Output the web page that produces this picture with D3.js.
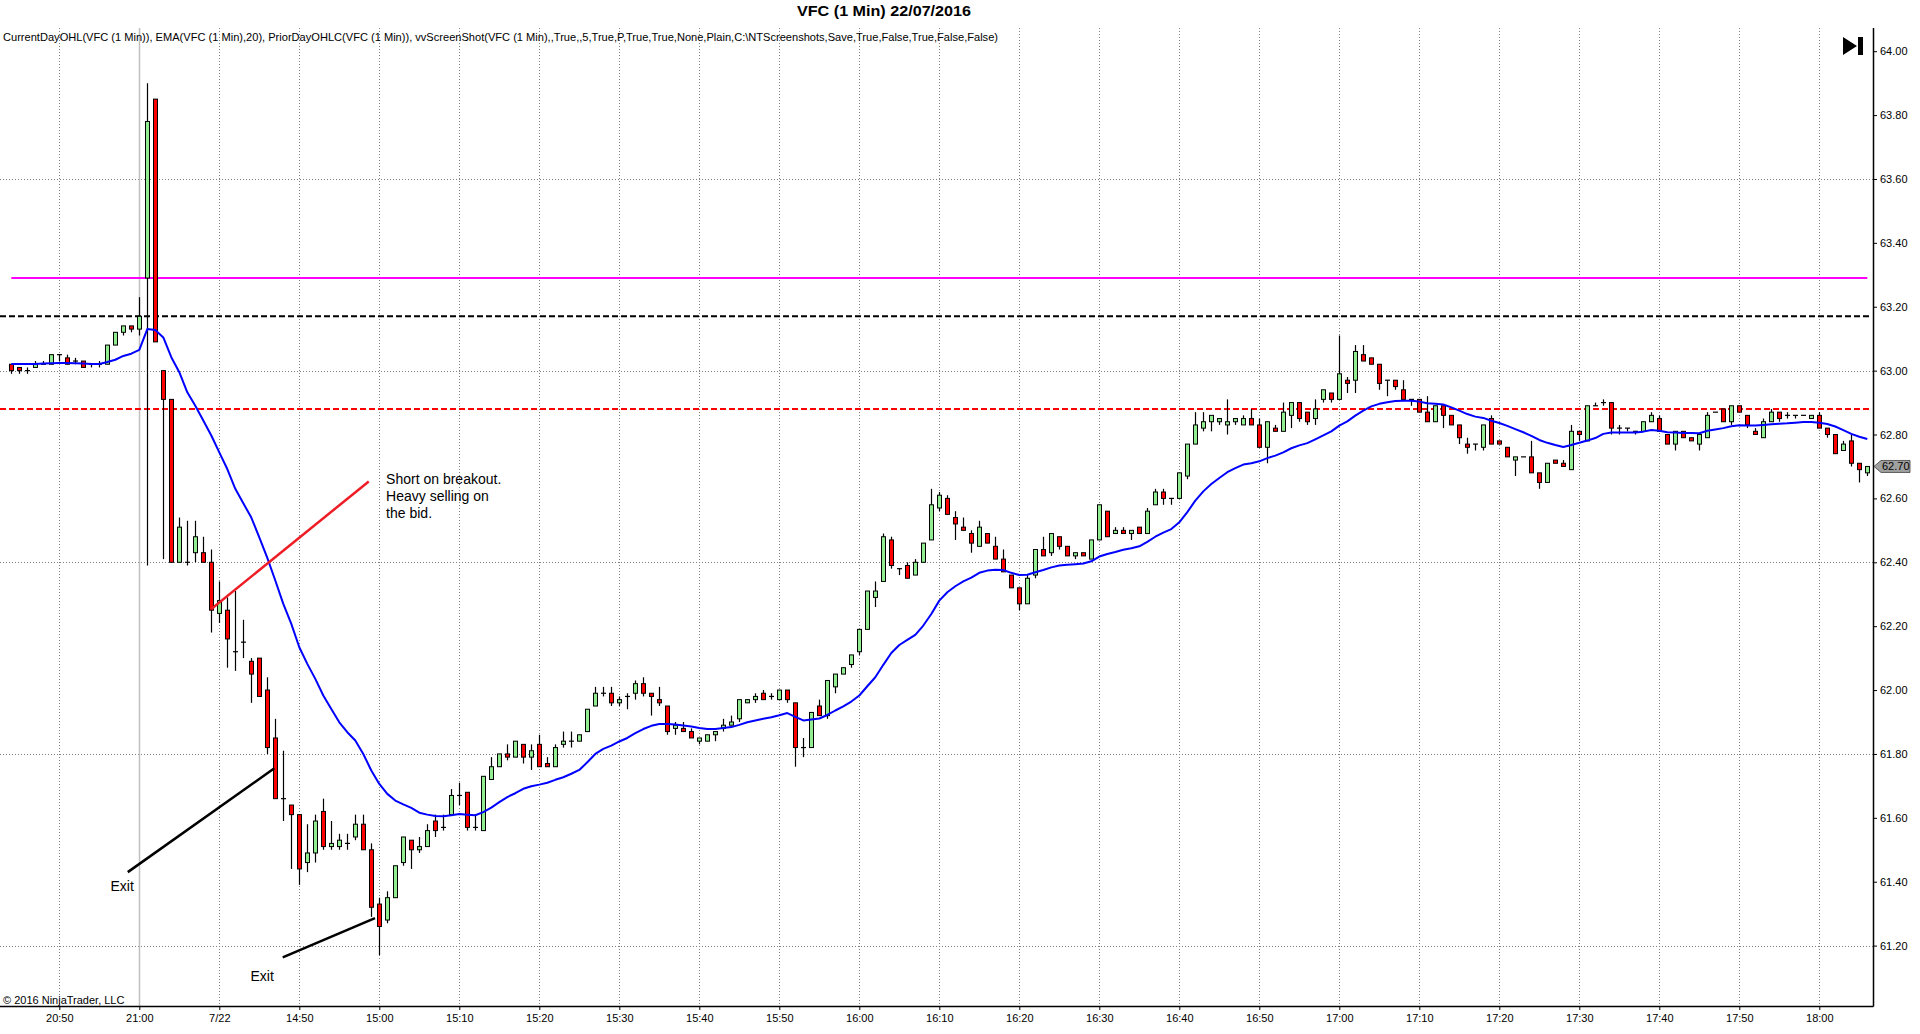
<!DOCTYPE html>
<html>
<head>
<meta charset="utf-8">
<script src="https://d3js.org/d3.v7.min.js"></script>
<style>
  body { margin: 0; background: #fff; }
  text { font-family: "Liberation Sans", Arial, sans-serif; }
</style>
</head>
<body>
<div id="chart"></div>
<script>

// chart size
const width = 1920
const height = 1034

// bar sessions: prior day tail and 22/07 session, one bar per minute
const sessions = [["20:44", "21:00"], ["14:31", "18:06"]]

// OHLC (VFC 1 min)
const opens = [
  63.02,63.01,63.00,63.01,63.02,63.02,63.05,63.04,63.03,63.03,
  63.02,63.02,63.02,63.08,63.12,63.14,63.13,63.29,63.85,63.00,
  62.91,62.40,62.40,62.43,62.43,62.40,62.24,62.25,62.12,62.15,
  62.09,62.10,62.00,61.85,61.66,61.64,61.61,61.46,61.49,61.62,
  61.51,61.51,61.52,61.54,61.58,61.50,61.33,61.28,61.35,61.46,
  61.53,61.50,61.51,61.59,61.57,61.61,61.67,61.68,61.57,61.56,
  61.72,61.76,61.80,61.79,61.83,61.79,61.83,61.77,61.76,61.83,
  61.84,61.84,61.87,61.95,61.99,61.99,61.96,61.98,61.99,62.02,
  61.99,61.97,61.95,61.88,61.88,61.87,61.84,61.84,61.86,61.88,
  61.89,61.91,61.96,61.97,61.99,61.98,61.97,62.00,61.96,61.82,
  61.82,61.95,61.92,62.01,62.05,62.08,62.12,62.19,62.29,62.34,
  62.47,62.38,62.39,62.36,62.40,62.47,62.57,62.60,62.54,62.51,
  62.49,62.45,62.49,62.45,62.41,62.36,62.32,62.27,62.36,62.44,
  62.43,62.48,62.45,62.42,62.43,62.41,62.47,62.56,62.49,62.50,
  62.49,62.51,62.49,62.58,62.62,62.60,62.60,62.67,62.77,62.82,
  62.84,62.84,62.83,62.84,62.83,62.85,62.83,62.76,62.82,62.81,
  62.86,62.90,62.87,62.85,62.91,62.93,62.91,62.97,62.97,63.05,
  63.04,63.02,62.97,62.97,62.94,62.91,62.91,62.87,62.84,62.89,
  62.86,62.83,62.77,62.77,62.76,62.85,62.78,62.76,62.72,62.73,
  62.73,62.68,62.65,62.72,62.71,62.69,62.81,62.78,62.89,62.90,
  62.90,62.82,62.82,62.81,62.81,62.84,62.85,62.80,62.77,62.81,
  62.79,62.77,62.79,62.87,62.88,62.84,62.89,62.86,62.81,62.79,
  62.84,62.87,62.86,62.86,62.86,62.85,62.86,62.82,62.80,62.75,
  62.78,62.71,62.68
]
const highs = [
  63.02,63.01,63.01,63.03,63.03,63.05,63.05,63.05,63.04,63.03,
  63.02,63.03,63.08,63.12,63.14,63.14,63.23,63.90,63.85,63.00,
  62.91,62.54,62.53,62.53,62.48,62.44,62.34,62.29,62.31,62.22,
  62.10,62.10,62.04,61.91,61.81,61.64,61.61,61.58,61.61,61.66,
  61.59,61.55,61.55,61.61,61.61,61.52,61.35,61.37,61.45,61.54,
  61.53,61.54,61.58,61.61,61.61,61.69,61.71,61.68,61.61,61.73,
  61.79,61.80,61.83,61.84,61.83,61.83,61.86,61.79,61.83,61.87,
  61.87,61.86,61.94,62.01,62.01,62.01,61.98,61.99,62.03,62.04,
  61.99,62.01,61.95,61.90,61.90,61.88,61.85,61.86,61.87,61.91,
  61.92,61.97,61.97,61.99,62.00,61.99,62.00,62.00,61.96,61.85,
  61.93,61.97,62.03,62.05,62.07,62.11,62.19,62.31,62.34,62.49,
  62.48,62.38,62.40,62.41,62.46,62.63,62.62,62.61,62.56,62.54,
  62.50,62.53,62.49,62.48,62.44,62.36,62.32,62.36,62.44,62.48,
  62.49,62.48,62.45,62.43,62.43,62.47,62.58,62.56,62.51,62.51,
  62.50,62.51,62.57,62.63,62.63,62.60,62.68,62.77,62.87,62.87,
  62.86,62.85,62.91,62.85,62.86,62.88,62.85,62.84,62.83,62.90,
  62.90,62.90,62.87,62.91,62.94,62.93,63.11,62.98,63.08,63.08,
  63.04,63.02,62.97,62.97,62.97,62.91,62.91,62.92,62.89,62.89,
  62.86,62.83,62.79,62.77,62.83,62.86,62.78,62.76,62.73,62.73,
  62.78,62.68,62.71,62.72,62.72,62.83,62.81,62.89,62.90,62.91,
  62.90,62.83,62.82,62.81,62.84,62.87,62.86,62.80,62.81,62.81,
  62.79,62.80,62.87,62.87,62.88,62.89,62.89,62.86,62.82,62.85,
  62.88,62.87,62.87,62.86,62.86,62.86,62.87,62.82,62.80,62.78,
  62.80,62.71,62.70
]
const lows = [
  62.99,62.99,62.99,63.01,63.02,63.02,63.03,63.02,63.02,63.01,
  63.01,63.01,63.02,63.08,63.11,63.12,63.11,62.39,63.09,62.41,
  62.40,62.40,62.39,62.40,62.40,62.18,62.21,62.07,62.06,62.10,
  61.96,61.98,61.80,61.66,61.59,61.44,61.39,61.43,61.46,61.50,
  61.50,61.50,61.50,61.53,61.50,61.29,61.17,61.27,61.35,61.45,
  61.44,61.49,61.51,61.54,61.56,61.61,61.64,61.56,61.56,61.56,
  61.72,61.76,61.78,61.79,61.77,61.75,61.76,61.76,61.76,61.82,
  61.82,61.84,61.87,61.95,61.98,61.95,61.95,61.94,61.97,61.98,
  61.92,61.95,61.86,61.86,61.87,61.85,61.83,61.84,61.84,61.87,
  61.89,61.90,61.96,61.96,61.97,61.97,61.97,61.96,61.76,61.79,
  61.82,61.92,61.91,61.99,62.05,62.07,62.11,62.19,62.26,62.34,
  62.38,62.36,62.35,62.36,62.40,62.47,62.56,62.55,62.47,62.50,
  62.43,62.45,62.46,62.41,62.37,62.32,62.25,62.27,62.35,62.42,
  62.42,62.44,62.42,62.41,62.42,62.41,62.47,62.48,62.49,62.49,
  62.47,62.49,62.49,62.58,62.58,62.58,62.60,62.66,62.77,62.81,
  62.81,62.83,62.80,62.83,62.83,62.83,62.76,62.71,62.81,62.81,
  62.82,62.84,62.83,62.83,62.90,62.90,62.91,62.93,62.93,63.03,
  63.02,62.94,62.92,62.94,62.91,62.89,62.87,62.84,62.84,62.82,
  62.83,62.77,62.74,62.75,62.75,62.77,62.77,62.73,62.67,62.73,
  62.68,62.63,62.65,62.71,62.70,62.69,62.78,62.78,62.89,62.89,
  62.80,62.80,62.81,62.80,62.81,62.84,62.81,62.77,62.75,62.79,
  62.78,62.75,62.79,62.87,62.84,62.83,62.87,62.82,62.80,62.79,
  62.84,62.84,62.85,62.85,62.86,62.85,62.82,62.79,62.74,62.75,
  62.70,62.65,62.67
]
const closes = [
  63.00,63.00,63.00,63.02,63.02,63.05,63.05,63.02,63.03,63.01,
  63.02,63.02,63.08,63.12,63.14,63.13,63.17,63.78,63.09,62.91,
  62.40,62.51,62.40,62.48,62.40,62.25,62.28,62.16,62.12,62.15,
  62.05,61.98,61.82,61.66,61.66,61.61,61.44,61.49,61.59,61.51,
  61.52,61.53,61.52,61.58,61.50,61.32,61.26,61.35,61.45,61.54,
  61.50,61.51,61.56,61.56,61.57,61.67,61.67,61.57,61.57,61.73,
  61.76,61.80,61.79,61.84,61.79,61.81,61.76,61.76,61.82,61.84,
  61.84,61.86,61.94,61.99,61.99,61.96,61.97,61.98,62.02,61.99,
  61.98,61.96,61.87,61.89,61.87,61.85,61.85,61.86,61.87,61.89,
  61.90,61.97,61.97,61.98,61.97,61.98,62.00,61.97,61.82,61.82,
  61.93,61.92,62.03,62.05,62.07,62.11,62.19,62.31,62.31,62.48,
  62.39,62.38,62.35,62.40,62.46,62.58,62.61,62.55,62.52,62.50,
  62.46,62.51,62.46,62.41,62.37,62.32,62.27,62.35,62.44,62.42,
  62.49,62.45,62.42,62.43,62.42,62.47,62.58,62.48,62.50,62.49,
  62.50,62.49,62.56,62.62,62.60,62.60,62.68,62.77,62.83,62.84,
  62.86,62.85,62.84,62.85,62.85,62.83,62.76,62.84,62.81,62.87,
  62.90,62.85,62.84,62.88,62.94,62.91,62.99,62.96,63.06,63.03,
  63.02,62.96,62.97,62.95,62.91,62.91,62.87,62.84,62.89,62.86,
  62.83,62.79,62.76,62.77,62.83,62.77,62.77,62.73,62.73,62.73,
  62.68,62.65,62.71,62.71,62.70,62.81,62.80,62.89,62.89,62.90,
  62.82,62.82,62.82,62.81,62.84,62.86,62.81,62.77,62.81,62.79,
  62.78,62.80,62.86,62.87,62.84,62.89,62.87,62.83,62.80,62.84,
  62.87,62.85,62.86,62.86,62.86,62.86,62.82,62.80,62.74,62.77,
  62.71,62.69,62.70
]
// EMA(20) as drawn on the picture
const ema20 = [
  63.021,63.021,63.021,63.021,63.022,63.023,63.024,63.024,63.023,63.022,
  63.021,63.021,63.027,63.034,63.046,63.053,63.065,63.130,63.127,63.104,
  63.042,62.995,62.932,62.890,62.844,62.797,62.744,62.692,62.630,62.585,
  62.540,62.478,62.414,62.343,62.270,62.207,62.134,62.082,62.035,61.983,
  61.941,61.899,61.868,61.842,61.800,61.748,61.706,61.675,61.654,61.642,
  61.631,61.616,61.610,61.606,61.605,61.608,61.612,61.610,61.608,61.618,
  61.632,61.649,61.665,61.677,61.691,61.699,61.704,61.710,61.719,61.727,
  61.738,61.750,61.774,61.800,61.816,61.826,61.839,61.850,61.865,61.878,
  61.888,61.894,61.894,61.892,61.889,61.886,61.881,61.878,61.878,61.881,
  61.884,61.891,61.899,61.905,61.910,61.915,61.921,61.928,61.916,61.905,
  61.908,61.911,61.922,61.936,61.949,61.964,61.983,62.012,62.040,62.079,
  62.116,62.141,62.157,62.173,62.202,62.238,62.280,62.306,62.325,62.340,
  62.352,62.367,62.374,62.377,62.376,62.367,62.360,62.361,62.369,62.376,
  62.384,62.390,62.392,62.394,62.396,62.403,62.418,62.426,62.432,62.439,
  62.444,62.450,62.464,62.480,62.493,62.504,62.525,62.557,62.593,62.622,
  62.645,62.664,62.682,62.695,62.706,62.710,62.716,62.726,62.734,62.744,
  62.757,62.766,62.773,62.785,62.797,62.810,62.828,62.841,62.859,62.875,
  62.888,62.896,62.901,62.905,62.906,62.906,62.903,62.898,62.896,62.894,
  62.885,62.875,62.864,62.856,62.852,62.843,62.836,62.827,62.817,62.807,
  62.796,62.783,62.774,62.767,62.761,62.767,62.774,62.781,62.789,62.802,
  62.806,62.806,62.806,62.806,62.809,62.814,62.812,62.807,62.806,62.805,
  62.805,62.804,62.812,62.816,62.820,62.826,62.829,62.828,62.828,62.830,
  62.832,62.834,62.835,62.837,62.839,62.839,62.837,62.833,62.825,62.814,
  62.802,62.793,62.786
]

// current day open, prior day close, prior day low
const levelNames = ["open", "priorClose", "priorLow"]
const levelPrices = [63.29, 63.17, 62.88]

// axis ticks
const xTicks = ["20:50","21:00","14:40","14:50","15:00","15:10","15:20","15:30","15:40","15:50",
  "16:00","16:10","16:20","16:30","16:40","16:50","17:00","17:10","17:20","17:30","17:40","17:50","18:00"]
const xTickLabels = ["20:50","21:00","7/22","14:50","15:00","15:10","15:20","15:30","15:40","15:50",
  "16:00","16:10","16:20","16:30","16:40","16:50","17:00","17:10","17:20","17:30","17:40","17:50","18:00"]
const sessionBreak = "21:00"
const yTicks = [61.2,61.4,61.6,61.8,62.0,62.2,62.4,62.6,62.8,63.0,63.2,63.4,63.6,63.8,64.0]
const yGrid = [61.2, 61.8, 62.4, 63.0, 63.6]

// build bar times from the sessions
const fmt = d3.timeFormat("%H:%M")
const parse = d3.timeParse("%H:%M")
const times = []
sessions.forEach(s => {
  d3.timeMinute.range(parse(s[0]), d3.timeMinute.offset(parse(s[1]), 1))
    .forEach(t => times.push(fmt(t)))
})
const bars = times.map((t, i) => ({ t: t, o: opens[i], h: highs[i], l: lows[i], c: closes[i], e: ema20[i] }))

// plot frame
const plotLeft = 0, plotRight = 1873, plotTop = 28, plotBottom = 1006

const x = d3.scalePoint().domain(times).range([11.3, 1867.3])
const xAt = idx => x(times[0]) + idx * x.step()
const y = d3.scaleLinear().domain([61.2, 64.0]).range([945.6, 51.2])

const svg = d3.select("#chart").append("svg")
  .attr("width", width)
  .attr("height", height)
  .style("display", "block")

// grid
svg.append("g").selectAll("line")
  .data(yGrid)
  .join("line")
    .attr("x1", plotLeft).attr("x2", plotRight)
    .attr("y1", d => Math.round(y(d)) + 0.5).attr("y2", d => Math.round(y(d)) + 0.5)
    .attr("stroke", "#808080")
    .attr("stroke-dasharray", "1,2")

svg.append("g").selectAll("line")
  .data(xTicks)
  .join("line")
    .attr("x1", d => Math.round(x(d)) + 0.5).attr("x2", d => Math.round(x(d)) + 0.5)
    .attr("y1", plotTop).attr("y2", plotBottom)
    .attr("stroke", d => d === sessionBreak ? "#c0c0c0" : "#808080")
    .attr("stroke-width", d => d === sessionBreak ? 1.5 : 1)
    .attr("stroke-dasharray", d => d === sessionBreak ? null : "1,2")

// indicator label and title
svg.append("text")
  .attr("x", 3).attr("y", 41)
  .attr("font-size", 10.5)
  .attr("textLength", 995)
  .attr("lengthAdjust", "spacingAndGlyphs")
  .text("CurrentDayOHL(VFC (1 Min)), EMA(VFC (1 Min),20), PriorDayOHLC(VFC (1 Min)), vvScreenShot(VFC (1 Min),,True,,5,True,P,True,True,None,Plain,C:\\NTScreenshots,Save,True,False,True,False,False)")

svg.append("text")
  .attr("x", 884).attr("y", 16)
  .attr("text-anchor", "middle")
  .attr("font-size", 15)
  .attr("font-weight", "bold")
  .attr("textLength", 174)
  .attr("lengthAdjust", "spacingAndGlyphs")
  .text("VFC (1 Min)  22/07/2016")

// level lines
svg.append("g").selectAll("line")
  .data(levelPrices)
  .join("line")
    .attr("x1", (d, i) => levelNames[i] === "open" ? x(times[0]) : 0)
    .attr("x2", (d, i) => levelNames[i] === "open" ? x(times[times.length - 1]) : 1871)
    .attr("y1", d => y(d)).attr("y2", d => y(d))
    .attr("stroke", (d, i) => levelNames[i] === "open" ? "#ff00ff" : levelNames[i] === "priorClose" ? "#000000" : "#ff0000")
    .attr("stroke-width", 2)
    .attr("stroke-dasharray", (d, i) => levelNames[i] === "open" ? null : "6,3")

// candles
const bw = 4
const candle = svg.append("g").selectAll("g")
  .data(bars)
  .join("g")

candle.append("line")
  .attr("x1", d => Math.round(x(d.t)) + 0.5).attr("x2", d => Math.round(x(d.t)) + 0.5)
  .attr("y1", d => y(d.h)).attr("y2", d => y(d.l))
  .attr("stroke", "#000")
  .attr("stroke-width", 1.2)

candle.filter(d => d.o !== d.c).append("rect")
  .attr("x", d => Math.round(x(d.t)) + 0.5 - bw / 2)
  .attr("width", bw)
  .attr("y", d => y(Math.max(d.o, d.c)))
  .attr("height", d => Math.max(1, y(Math.min(d.o, d.c)) - y(Math.max(d.o, d.c))))
  .attr("fill", d => d.c > d.o ? "#90ee90" : "#ff0000")
  .attr("stroke", "#000")
  .attr("stroke-width", 1)

candle.filter(d => d.o === d.c).append("line")
  .attr("x1", d => Math.round(x(d.t)) + 0.5 - bw / 2 - 0.5)
  .attr("x2", d => Math.round(x(d.t)) + 0.5 + bw / 2 + 0.5)
  .attr("y1", d => y(d.c)).attr("y2", d => y(d.c))
  .attr("stroke", "#000")
  .attr("stroke-width", 1.2)

// EMA
svg.append("path")
  .datum(bars)
  .attr("fill", "none")
  .attr("stroke", "#0000ff")
  .attr("stroke-width", 2)
  .attr("stroke-linejoin", "round")
  .attr("d", d3.line().x(d => x(d.t)).y(d => y(d.e)))

// annotations (bar index, price)
const notes = [
  { from: [25, 62.254], to: [44.68, 62.653], color: "#ee1c24" },
  { from: [14.56, 61.43], to: [32.88, 61.755], color: "#000" },
  { from: [33.93, 61.163], to: [45.46, 61.286], color: "#000" }
]
svg.append("g").selectAll("line")
  .data(notes)
  .join("line")
    .attr("x1", d => xAt(d.from[0])).attr("y1", d => y(d.from[1]))
    .attr("x2", d => xAt(d.to[0])).attr("y2", d => y(d.to[1]))
    .attr("stroke", d => d.color)
    .attr("stroke-width", 2.5)

const shortNote = svg.append("text")
  .attr("x", xAt(46.85)).attr("y", y(62.645))
  .attr("font-size", 14)
shortNote.selectAll("tspan")
  .data(["Short on breakout.", "Heavy selling on", "the bid."])
  .join("tspan")
    .attr("x", xAt(46.85))
    .attr("dy", (d, i) => i === 0 ? 0 : 17)
    .text(d => d)

svg.append("g").selectAll("text")
  .data([[12.4, 61.37], [29.9, 61.09]])
  .join("text")
    .attr("x", d => xAt(d[0])).attr("y", d => y(d[1]))
    .attr("font-size", 14)
    .text("Exit")

// axes
const yAxis = svg.append("g")
  .attr("transform", `translate(${plotRight},0)`)
  .call(d3.axisRight(y).tickValues(yTicks).tickFormat(d3.format(".2f")).tickSize(4).tickPadding(3))
yAxis.select(".domain").remove()
yAxis.selectAll("text").attr("font-size", 11).attr("font-family", "Liberation Sans, Arial, sans-serif").attr("fill", "#000")

const xAxis = svg.append("g")
  .attr("transform", `translate(0,${plotBottom})`)
  .call(d3.axisBottom(x).tickValues(xTicks).tickFormat((d, i) => xTickLabels[i]).tickSize(4).tickPadding(4))
xAxis.select(".domain").remove()
xAxis.selectAll("text").attr("font-size", 11).attr("font-family", "Liberation Sans, Arial, sans-serif").attr("fill", "#000")

svg.append("line")
  .attr("x1", plotRight + 0.5).attr("x2", plotRight + 0.5)
  .attr("y1", plotTop).attr("y2", plotBottom + 0.5)
  .attr("stroke", "#000").attr("stroke-width", 1.5)
svg.append("line")
  .attr("x1", plotLeft).attr("x2", plotRight + 0.5)
  .attr("y1", plotBottom + 0.5).attr("y2", plotBottom + 0.5)
  .attr("stroke", "#000").attr("stroke-width", 1.5)

// last price marker
const last = bars[bars.length - 1]
const ly = y(last.c)
svg.append("path")
  .attr("d", `M${plotRight + 1},${ly} L${plotRight + 8},${ly - 6} L${plotRight + 37},${ly - 6} L${plotRight + 37},${ly + 6} L${plotRight + 8},${ly + 6} Z`)
  .attr("fill", "#a0a0a0")
  .attr("stroke", "#404040")
  .attr("stroke-width", 0.8)
svg.append("text")
  .attr("x", plotRight + 9).attr("y", ly + 4)
  .attr("font-size", 11)
  .text(d3.format(".2f")(last.c))

// go-to-end button
svg.append("path")
  .attr("d", "M1843,37 L1857,46 L1843,55 Z M1858,37 L1863,37 L1863,55 L1858,55 Z")
  .attr("fill", "#000")

// copyright
svg.append("text")
  .attr("x", 3).attr("y", 1004)
  .attr("font-size", 11)
  .text("\u00a9 2016 NinjaTrader, LLC")

</script>
</body>
</html>
